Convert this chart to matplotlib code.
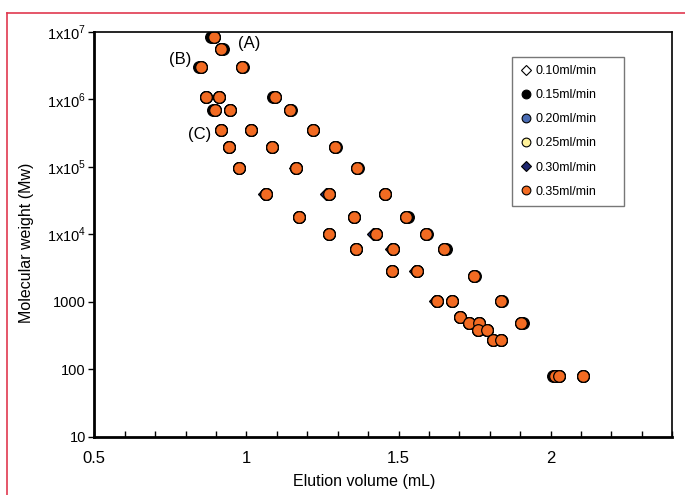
import matplotlib.pyplot as plt
from matplotlib.ticker import MultipleLocator, FixedLocator, FuncFormatter
from matplotlib.lines import Line2D

plt.rcParams['font.family'] = ['Liberation Sans', 'DejaVu Sans']
plt.rcParams['mathtext.fontset'] = 'custom'
plt.rcParams['mathtext.rm'] = 'Liberation Sans'

# Molecular weight of each standard (shared by all flow rates)
mw = [8.5e6, 5.6e6, 3.0e6, 3.0e6, 1.1e6, 1.1e6, 1.1e6, 7.0e5, 7.0e5, 7.0e5,
      3.5e5, 3.5e5, 3.5e5, 1.95e5, 1.95e5, 1.95e5, 9.5e4, 9.5e4, 9.7e4,
      3.9e4, 3.9e4, 3.9e4, 1.8e4, 1.8e4, 1.8e4, 1.0e4, 1.0e4, 1.0e4,
      6.0e3, 6.0e3, 6.0e3, 2.86e3, 2.86e3, 2.4e3, 1030, 1030, 1030,
      600, 490, 490, 490, 380, 380, 274, 274, 79, 79, 79]

# Elution volumes (mL) per flow rate
vol_035 = [0.893, 0.918, 0.852, 0.986, 0.867, 0.910, 1.093, 0.896, 0.945, 1.142,
           0.918, 1.015, 1.220, 0.943, 1.085, 1.292, 0.974, 1.163, 1.362,
           1.063, 1.271, 1.454, 1.174, 1.354, 1.526, 1.271, 1.425, 1.590,
           1.361, 1.482, 1.649, 1.478, 1.562, 1.748, 1.628, 1.677, 1.836,
           1.703, 1.730, 1.765, 1.904, 1.761, 1.790, 1.809, 1.836, 2.013, 2.027, 2.105]
vol_015 = [0.885, 0.922, 0.845, 0.988, 0.867, 0.910, 1.086, 0.890, 0.945, 1.145,
           0.918, 1.015, 1.220, 0.943, 1.085, 1.296, 0.974, 1.163, 1.366,
           1.063, 1.271, 1.456, 1.174, 1.354, 1.531, 1.271, 1.425, 1.592,
           1.361, 1.482, 1.655, 1.478, 1.562, 1.752, 1.628, 1.677, 1.840,
           1.703, 1.730, 1.765, 1.910, 1.761, 1.790, 1.809, 1.836, 2.008, 2.027, 2.105]
vol_030 = [0.893, 0.918, 0.852, 0.986, 0.867, 0.910, 1.093, 0.896, 0.945, 1.142,
           0.918, 1.015, 1.220, 0.943, 1.085, 1.292, 0.974, 1.160, 1.362,
           1.058, 1.262, 1.454, 1.174, 1.354, 1.526, 1.271, 1.415, 1.590,
           1.361, 1.474, 1.649, 1.478, 1.553, 1.748, 1.619, 1.677, 1.836,
           1.703, 1.730, 1.765, 1.904, 1.761, 1.790, 1.809, 1.836, 2.013, 2.027, 2.105]

labels = ['0.10ml/min', '0.15ml/min', '0.20ml/min', '0.25ml/min', '0.30ml/min', '0.35ml/min']
vols = [vol_035, vol_015, vol_035, vol_035, vol_030, vol_035]
markers = ['D', 'o', 'o', 'o', 'D', 'o']
faces = ['white', 'black', '#4a6cb3', '#fff29a', '#1f2870', '#f26b22']
msizes = [6.5, 8.4, 8.4, 8.4, 6.5, 8.4]

fig = plt.figure(figsize=(6.85, 4.95), dpi=100)
ax = fig.add_axes([0.1377, 0.1178, 0.9815 - 0.1377, 0.9354 - 0.1178])

for v, m, fc, ms in zip(vols, markers, faces, msizes):
    ax.plot(v, mw, linestyle='none', marker=m, markersize=ms,
            markerfacecolor=fc, markeredgecolor='black', markeredgewidth=0.9)

ax.set_yscale('log')
ax.set_xlim(0.5, 2.4)
ax.set_ylim(10, 1e7)

ax.xaxis.set_major_locator(MultipleLocator(0.5))
ax.xaxis.set_minor_locator(MultipleLocator(0.1))
ax.xaxis.set_major_formatter(FuncFormatter(lambda x, p: f'{x:g}'))
ax.tick_params(axis='x', which='both', direction='in', length=4, width=1, labelsize=12, pad=10)

yt = [10, 100, 1000, 1e4, 1e5, 1e6, 1e7]
ylabels = ['10', '100', '1000', r'1x10$^{4}$', r'1x10$^{5}$', r'1x10$^{6}$', r'1x10$^{7}$']
ax.yaxis.set_major_locator(FixedLocator(yt))
ax.set_yticklabels(ylabels)
ax.yaxis.set_minor_locator(FixedLocator([]))
ax.tick_params(axis='y', direction='out', length=4, width=1, labelsize=10.5, pad=2)

for s in ['left', 'bottom']:
    ax.spines[s].set_linewidth(2)
for s in ['top', 'right']:
    ax.spines[s].set_linewidth(1.2)

ax.set_xlabel('Elution volume (mL)', fontsize=11.5, va='center')
ax.xaxis.set_label_coords(0.4666, -0.111)
ax.set_ylabel('Molecular weight (Mw)', fontsize=11.5, va='center')
ax.yaxis.set_label_coords(-0.117, 0.48)

ax.text(1.009, 6.8e6, '(A)', fontsize=12, ha='center', va='center')
ax.text(0.783, 3.9e6, '(B)', fontsize=12, ha='center', va='center')
ax.text(0.847, 2.97e5, '(C)', fontsize=12, ha='center', va='center')

handles = [Line2D([], [], linestyle='none', marker=m, markersize=ms * 0.75,
                  markerfacecolor=fc, markeredgecolor='black', markeredgewidth=0.8)
           for m, fc, ms in zip(markers, faces, msizes)]
leg = ax.legend(handles, labels, loc='upper left',
                bbox_to_anchor=(0.7227, 0.5, 0.1938, 0.4382), mode='expand',
                fontsize=9, frameon=True, fancybox=False, edgecolor='#555555',
                handlelength=1.0, handletextpad=0.2, labelspacing=0.97,
                borderpad=0.65, borderaxespad=0)
leg.get_frame().set_linewidth(1)

# red frame around the figure
fig.add_artist(Line2D([0.0102, 1.0], [0.9737, 0.9737], color='#e0384f', linewidth=1.2))
fig.add_artist(Line2D([0.0102, 0.0102], [0.0, 0.9737], color='#e0384f', linewidth=1.2))

fig.savefig('out.png', dpi=100)
